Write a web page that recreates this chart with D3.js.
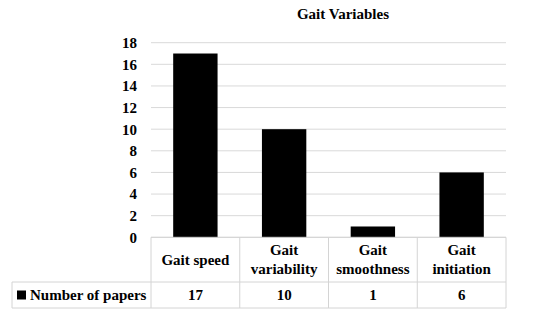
<!DOCTYPE html>
<html><head><meta charset="utf-8">
<script src="https://cdn.jsdelivr.net/npm/d3@7"></script>
</head>
<body style="margin:0;background:#fff"><svg id="c" width="550" height="320"></svg>
<script>
const categories = [["Gait speed"], ["Gait","variability"], ["Gait","smoothness"], ["Gait","initiation"]];
const values = [17, 10, 1, 6];
const seriesName = "Number of papers";
const yTicks = [0, 2, 4, 6, 8, 10, 12, 14, 16, 18];
const title = "Gait Variables";

(function(){
const svg = d3.select("#c");
const font = "\"Liberation Serif\"";
const fs = "15px";
const styleText = sel => sel.style("font-family", font).style("font-weight", "bold").style("font-size", fs).attr("fill", "#000");
const pLeft = 151, pRight = 506, pTop = 42.7, pBottom = 237.3;
const row1 = 282, row2 = 308, tableLeft = 12;
const x = d3.scaleBand().domain(d3.range(categories.length)).range([pLeft, pRight]).paddingInner(0).paddingOuter(0);
const y = d3.scaleLinear().domain([0, 18]).range([pBottom, pTop]);

// gridlines
svg.append("g").selectAll("line").data(yTicks).join("line")
  .attr("x1", pLeft).attr("x2", pRight)
  .attr("y1", d => y(d)).attr("y2", d => y(d))
  .attr("stroke", "#d9d9d9").attr("stroke-width", 1);

// y axis labels
const yAxis = d3.axisLeft(y).tickValues(yTicks).tickSize(0).tickPadding(14);
const ga = svg.append("g").attr("transform", `translate(${pLeft},0)`).call(yAxis);
ga.select(".domain").remove();
ga.attr("font-family", null).attr("font-size", null);
ga.selectAll("text").call(styleText);

// bars
const bw = x.bandwidth() * 0.5;
svg.append("g").selectAll("rect").data(values).join("rect")
  .attr("x", (d, i) => x(i) + (x.bandwidth() - bw) / 2)
  .attr("width", bw)
  .attr("y", d => y(d))
  .attr("height", d => y(0) - y(d))
  .attr("fill", "#000");

// table lines
const tc = "#d4d4d4";
const tl = svg.append("g").attr("stroke", tc).attr("stroke-width", 1).attr("fill", "none");
tl.append("line").attr("x1", pLeft).attr("x2", pRight).attr("y1", pBottom).attr("y2", pBottom);
tl.append("line").attr("x1", tableLeft).attr("x2", pRight).attr("y1", row1).attr("y2", row1);
tl.append("line").attr("x1", tableLeft).attr("x2", pRight).attr("y1", row2).attr("y2", row2);
tl.append("line").attr("x1", tableLeft).attr("x2", tableLeft).attr("y1", row1).attr("y2", row2);
const bounds = d3.range(categories.length).map(i => x(i)).concat([pRight]);
tl.selectAll(".v").data(bounds).join("line")
  .attr("x1", d => d).attr("x2", d => d).attr("y1", pBottom).attr("y2", row2);

// category labels
const cg = svg.append("g");
categories.forEach((lines, i) => {
  const cx = x(i) + x.bandwidth() / 2;
  const mid = (pBottom + row1) / 2;
  const lh = 19;
  lines.forEach((t, j) => {
    cg.append("text").attr("x", cx)
      .attr("y", mid + (j - (lines.length - 1) / 2) * lh + 5)
      .attr("text-anchor", "middle").call(styleText).text(t);
  });
});

// values row
svg.append("g").selectAll("text").data(values).join("text")
  .attr("x", (d, i) => x(i) + x.bandwidth() / 2)
  .attr("y", (row1 + row2) / 2 + 5)
  .attr("text-anchor", "middle").call(styleText).text(d => d);

// legend key
svg.append("rect").attr("x", 17).attr("y", (row1 + row2) / 2 - 4.5).attr("width", 9).attr("height", 9).attr("fill", "#000");
svg.append("text").attr("x", 30).attr("y", (row1 + row2) / 2 + 5).call(styleText).text(seriesName);

// title
svg.append("text").attr("x", 343).attr("y", 19).attr("text-anchor", "middle").call(styleText).text(title);
})();
</script></body></html>
